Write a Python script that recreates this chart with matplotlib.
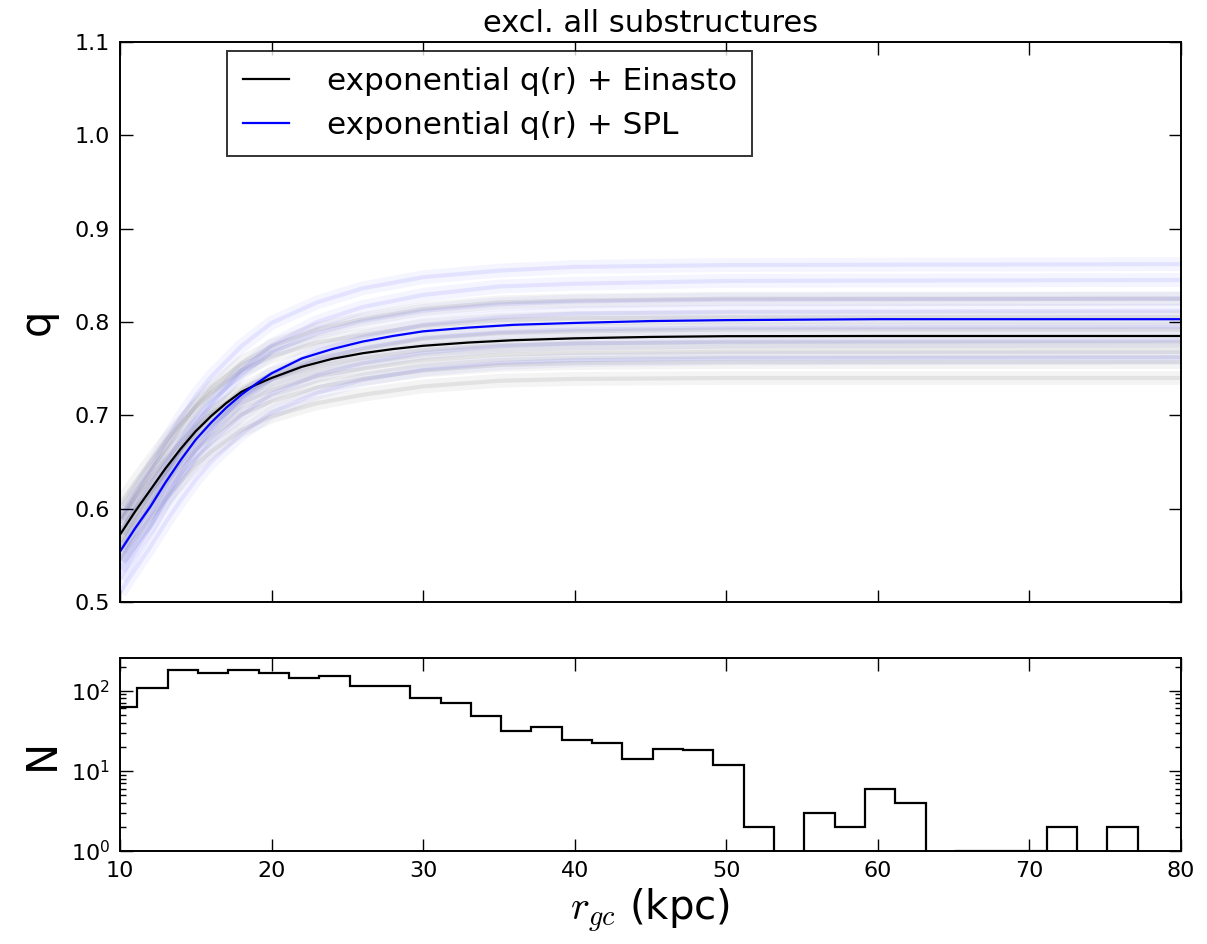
import numpy as np
import matplotlib
matplotlib.use('Agg')
import matplotlib.pyplot as plt

plt.rcParams['mathtext.fontset'] = 'cm'
plt.rcParams['font.family'] = 'DejaVu Sans'

# median q(r) curves
r_med = [10, 11, 12, 13, 14, 15, 16, 17, 18, 19, 20, 22, 24, 26, 28, 30, 33, 36, 40, 45, 50, 60, 80]
q_einasto = [0.572, 0.597, 0.620, 0.643, 0.664, 0.683, 0.699, 0.713, 0.725, 0.733, 0.740, 0.752,
             0.7605, 0.7665, 0.771, 0.7745, 0.778, 0.7805, 0.7825, 0.784, 0.7848, 0.785, 0.785]
q_spl = [0.554, 0.579, 0.602, 0.628, 0.652, 0.674, 0.692, 0.708, 0.722, 0.734, 0.745, 0.761,
         0.771, 0.779, 0.785, 0.790, 0.794, 0.797, 0.799, 0.801, 0.802, 0.803, 0.803]

# a few posterior draws
r_smp = [10, 11, 12, 13, 14, 15, 16, 18, 20, 23, 26, 30, 35, 40, 50, 80]
draws_einasto = [
    [0.545, 0.568, 0.589, 0.610, 0.629, 0.647, 0.661, 0.684, 0.699, 0.713, 0.722, 0.731, 0.737, 0.739, 0.740, 0.740],
    [0.560, 0.583, 0.604, 0.626, 0.645, 0.663, 0.677, 0.701, 0.715, 0.730, 0.739, 0.748, 0.754, 0.756, 0.757, 0.757],
    [0.575, 0.598, 0.618, 0.639, 0.658, 0.676, 0.690, 0.713, 0.727, 0.742, 0.750, 0.759, 0.765, 0.767, 0.768, 0.768],
    [0.590, 0.612, 0.632, 0.653, 0.671, 0.688, 0.702, 0.724, 0.738, 0.752, 0.761, 0.770, 0.775, 0.777, 0.778, 0.778],
    [0.565, 0.592, 0.616, 0.641, 0.663, 0.683, 0.700, 0.727, 0.744, 0.761, 0.771, 0.782, 0.788, 0.790, 0.792, 0.792],
    [0.605, 0.628, 0.650, 0.672, 0.691, 0.709, 0.724, 0.748, 0.763, 0.778, 0.786, 0.796, 0.802, 0.804, 0.805, 0.805],
    [0.585, 0.613, 0.639, 0.665, 0.689, 0.710, 0.728, 0.756, 0.774, 0.792, 0.803, 0.814, 0.821, 0.823, 0.825, 0.825],
]
draws_spl = [
    [0.510, 0.535, 0.559, 0.585, 0.609, 0.631, 0.650, 0.680, 0.703, 0.724, 0.738, 0.749, 0.756, 0.759, 0.761, 0.762],
    [0.535, 0.560, 0.582, 0.608, 0.632, 0.653, 0.671, 0.700, 0.723, 0.743, 0.756, 0.767, 0.774, 0.777, 0.779, 0.780],
    [0.555, 0.579, 0.601, 0.626, 0.650, 0.671, 0.688, 0.717, 0.739, 0.759, 0.772, 0.783, 0.789, 0.792, 0.794, 0.795],
    [0.525, 0.554, 0.580, 0.610, 0.638, 0.663, 0.684, 0.719, 0.745, 0.769, 0.784, 0.797, 0.805, 0.809, 0.811, 0.812],
    [0.575, 0.600, 0.623, 0.649, 0.674, 0.696, 0.714, 0.744, 0.767, 0.788, 0.801, 0.812, 0.819, 0.822, 0.824, 0.825],
    [0.545, 0.575, 0.603, 0.634, 0.663, 0.690, 0.711, 0.748, 0.775, 0.800, 0.816, 0.829, 0.838, 0.841, 0.844, 0.845],
    [0.590, 0.617, 0.642, 0.671, 0.697, 0.721, 0.741, 0.774, 0.799, 0.821, 0.836, 0.848, 0.855, 0.859, 0.861, 0.862],
]

# histogram of r_gc (2 kpc bins)
bin_edges = [9.15 + 2 * k for k in range(36)]
counts = [62, 107, 181, 167, 183, 164, 143, 153, 115, 115, 82, 70, 48, 31, 35, 24, 22, 14,
          19, 18, 12, 2, 0, 3, 2, 6, 4, 0, 1, 1, 1, 2, 0, 2, 0]

labels = ['exponential q(r) + Einasto', 'exponential q(r) + SPL']


def style_axis(ax):
    ax.tick_params(which='both', direction='in', top=True, right=True,
                   labelsize=16, width=1, pad=7)
    ax.tick_params(which='major', length=9)
    ax.tick_params(which='minor', length=4)
    for s in ax.spines.values():
        s.set_linewidth(1.4)


fig = plt.figure(figsize=(12.07, 9.44), dpi=100)
ax = fig.add_axes([0.0994, 0.3623, 0.879, 0.5932])
ax_h = fig.add_axes([0.0994, 0.0985, 0.879, 0.2045])

# soft stripes for the draws: a wide faint pass and a narrow one
for d in draws_einasto:
    ax.plot(r_smp, d, color='k', alpha=0.045, lw=10, solid_capstyle='butt')
    ax.plot(r_smp, d, color='k', alpha=0.07, lw=3, solid_capstyle='butt')
for d in draws_spl:
    ax.plot(r_smp, d, color='b', alpha=0.04, lw=10, solid_capstyle='butt')
    ax.plot(r_smp, d, color='b', alpha=0.07, lw=3, solid_capstyle='butt')

ax.plot(r_med, q_einasto, color='k', lw=1.6, label=labels[0])
ax.plot(r_med, q_spl, color='b', lw=1.6, label=labels[1])

ax.set_xlim(10, 80)
ax.set_ylim(0.5, 1.1)
ax.set_yticks(np.arange(0.5, 1.11, 0.1))
ax.set_xticks(np.arange(10, 81, 10))
ax.tick_params(labelbottom=False)
style_axis(ax)
ax.set_ylabel('q', fontsize=30, labelpad=12)
ax.set_title('excl. all substructures', fontsize=22, pad=7)

leg = ax.legend(loc='upper left', bbox_to_anchor=(0.101, 0.984), borderaxespad=0,
                fontsize=22.4, fancybox=False, handlelength=1.5, handletextpad=1.2,
                labelspacing=0.5, borderpad=0.5)
leg.get_frame().set_edgecolor('k')
leg.get_frame().set_linewidth(1.4)

ax_h.hist(bin_edges[:-1], bins=bin_edges, weights=counts, histtype='step',
          color='k', lw=1.6, log=True)
ax_h.set_yscale('log')
ax_h.set_xlim(10, 80)
ax_h.set_ylim(1, 256)
ax_h.set_xticks(np.arange(10, 81, 10))
style_axis(ax_h)
ax_h.set_ylabel('N', fontsize=30, labelpad=6)
ax_h.set_xlabel(r'$r_{gc}$ (kpc)', fontsize=29, labelpad=4)

fig.savefig('out.png', dpi=100)
